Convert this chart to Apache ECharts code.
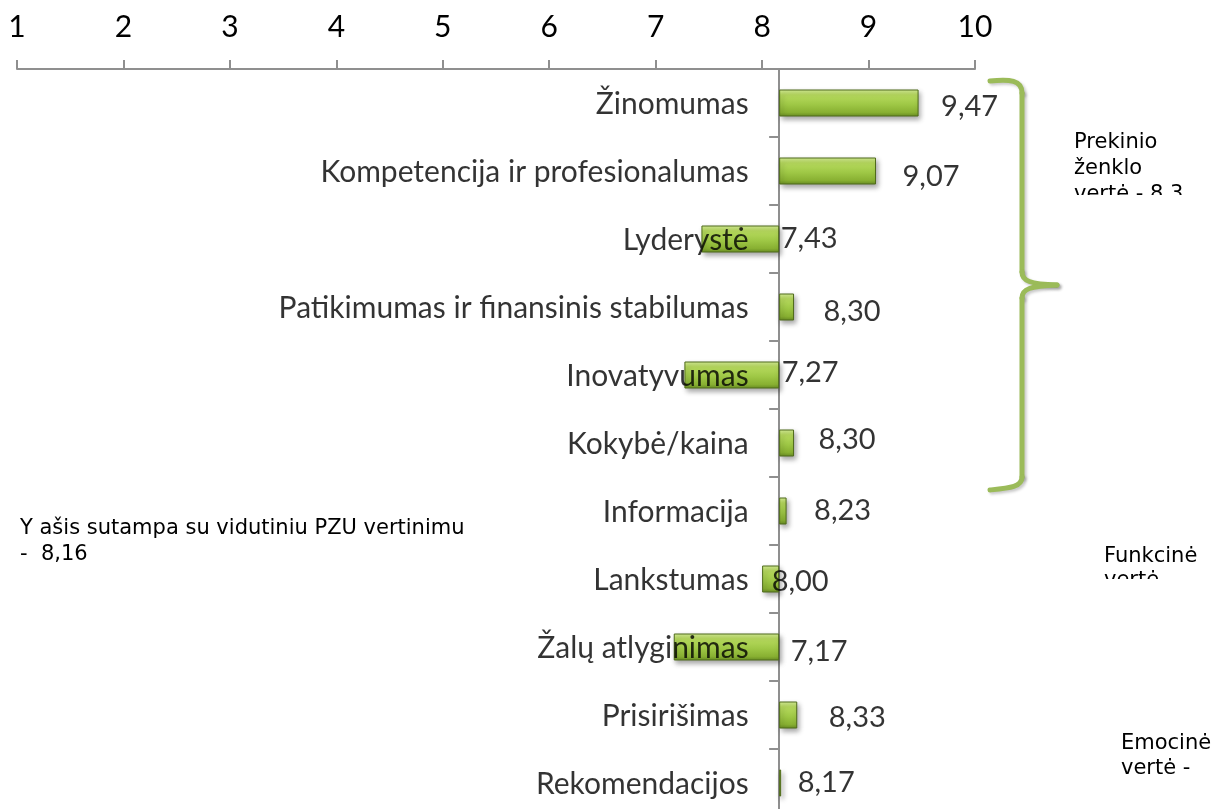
<!DOCTYPE html>
<html>
<head>
<meta charset="utf-8">
<script src="https://cdn.jsdelivr.net/npm/echarts@6/dist/echarts.min.js"></script>
<style>
  html, body { margin: 0; padding: 0; background: #ffffff; }
  #chart { width: 1214px; height: 809px; }
</style>
</head>
<body>
<div id="chart"></div>
<script>
// Brand attribute scores, read top to bottom
const categories = [
  'Žinomumas',
  'Kompetencija ir profesionalumas',
  'Lyderystė',
  'Patikimumas ir finansinis stabilumas',
  'Inovatyvumas',
  'Kokybė/kaina',
  'Informacija',
  'Lankstumas',
  'Žalų atlyginimas',
  'Prisirišimas',
  'Rekomendacijos'
];
const scores = [9.47, 9.07, 7.43, 8.30, 7.27, 8.30, 8.23, 8.00, 7.17, 8.33, 8.17];

// The vertical axis crosses the scale at the average PZU rating
const pzuAverage = 8.16;

// Score scale
const scaleMin = 1;
const scaleMax = 10;
const scaleStep = 1;

// Hand-placed nudges [dx, dy] for the value labels
const labelNudges = [
  [22, 4], [26, 6], [1, 0], [29, 5], [2, -2], [24, -3],
  [27, 0], [-8, 3], [11, 5], [31, 3], [17, 0]
];

const fmt = v => v.toFixed(2).replace('.', ',');

// Bars are drawn on a hidden companion axis whose zero sits at the average,
// so each bar grows from the average to the score.
const deltas = scores.map(v => +(v - pzuAverage).toFixed(4));

const barFill = {
  type: 'linear', x: 0, y: 0, x2: 0, y2: 1,
  colorStops: [
    { offset: 0, color: '#d6ee98' },
    { offset: 0.2, color: '#b7da5e' },
    { offset: 0.55, color: '#9fc846' },
    { offset: 0.85, color: '#88b032' },
    { offset: 1, color: '#6a8d24' }
  ]
};

const catFont = 'Lato';
const catSize = 30;
const valueSize = 29;
const noteFont = '21px "DejaVu Sans"';

const braceStyle = {
  fill: null,
  stroke: '#9bbb59',
  lineWidth: 5,
  lineCap: 'round',
  shadowColor: 'rgba(0,0,0,0.22)',
  shadowBlur: 3,
  shadowOffsetX: 2,
  shadowOffsetY: 2
};
const braceLine = (x1, y1, x2, y2) => ({
  type: 'line', z: 10, shape: { x1, y1, x2, y2 }, style: braceStyle
});
const braceCurve = (x1, y1, cpx1, cpy1, cpx2, cpy2, x2, y2) => ({
  type: 'bezierCurve', z: 10,
  shape: { x1, y1, cpx1, cpy1, cpx2, cpy2, x2, y2 },
  style: braceStyle
});

const noteText = (x, y, text, lineHeight) => ({
  type: 'text', z: 10, x, y,
  style: {
    text,
    font: noteFont,
    fill: '#000000',
    lineHeight,
    verticalAlign: 'top'
  }
});

const chart = echarts.init(document.getElementById('chart'), null, { renderer: 'canvas' });

chart.setOption({
  backgroundColor: '#ffffff',
  animation: false,
  grid: {
    left: 17,
    top: 69,
    width: 958,
    height: 748,
    containLabel: false,
    outerBoundsMode: 'none'
  },
  xAxis: [
    {
      type: 'value',
      position: 'top',
      min: scaleMin,
      max: scaleMax,
      interval: scaleStep,
      axisLine: { show: true, lineStyle: { color: '#8f8f8f', width: 2 } },
      axisTick: { show: true, length: 9, lineStyle: { color: '#8f8f8f', width: 2 } },
      axisLabel: { color: '#000000', fontFamily: catFont, fontSize: 30, margin: 27 },
      splitLine: { show: false }
    },
    {
      type: 'value',
      position: 'top',
      min: scaleMin - pzuAverage,
      max: scaleMax - pzuAverage,
      show: false,
      splitLine: { show: false }
    }
  ],
  yAxis: {
    type: 'category',
    data: categories,
    inverse: true,
    axisLine: {
      show: true,
      onZero: true,
      onZeroAxisIndex: 1,
      lineStyle: { color: '#8f8f8f', width: 2 }
    },
    axisTick: { show: true, length: 10, lineStyle: { color: '#8f8f8f', width: 2 } },
    axisLabel: { show: false },
    splitLine: { show: false }
  },
  series: [
    {
      type: 'bar',
      xAxisIndex: 1,
      data: deltas,
      barWidth: 27,
      barMinHeight: 2,
      itemStyle: {
        color: barFill,
        borderColor: '#4f6b1a',
        borderWidth: 1,
        shadowColor: 'rgba(0,0,0,0.35)',
        shadowBlur: 5,
        shadowOffsetX: 2,
        shadowOffsetY: 3
      },
      z: 2
    },
    {
      // category names, anchored at the crossing axis
      type: 'scatter',
      xAxisIndex: 1,
      symbolSize: 1,
      itemStyle: { color: 'rgba(0,0,0,0)' },
      z: 5,
      silent: true,
      data: categories.map((c, i) => ({
        value: [0, i],
        label: {
          show: true,
          position: 'left',
          distance: 30,
          offset: [0, 1],
          formatter: () => c,
          color: '#000000',
          fontFamily: catFont,
          fontSize: catSize
        }
      }))
    },
    {
      // score values
      type: 'scatter',
      xAxisIndex: 1,
      symbolSize: 1,
      itemStyle: { color: 'rgba(0,0,0,0)' },
      z: 6,
      silent: true,
      data: deltas.map((d, i) => ({
        value: [Math.max(d, 0), i],
        label: {
          show: true,
          position: 'right',
          distance: 0,
          offset: labelNudges[i],
          formatter: () => fmt(scores[i]),
          color: '#000000',
          fontFamily: catFont,
          fontSize: valueSize
        }
      }))
    }
  ],
  graphic: [
    braceCurve(990, 81, 1010, 79, 1022, 80, 1022, 93),
    braceLine(1022, 93, 1022, 272),
    braceCurve(1022, 272, 1022, 281, 1030, 284, 1057, 285),
    braceCurve(1057, 285, 1030, 286, 1022, 289, 1022, 298),
    braceLine(1022, 298, 1022, 477),
    braceCurve(1022, 477, 1022, 487, 1010, 488, 990, 490),
    noteText(1074, 130, 'Prekinio\nženklo\nvertė - 8,3', 26),
    {
      type: 'rect', z: 11,
      shape: { x: 1060, y: 195, width: 154, height: 30 },
      style: { fill: '#ffffff' }
    },
    noteText(1104, 545, 'Funkcinė\nvertė -', 24),
    {
      type: 'rect', z: 11,
      shape: { x: 1090, y: 579, width: 124, height: 30 },
      style: { fill: '#ffffff' }
    },
    noteText(1121, 731, 'Emocinė\nvertė -', 25),
    noteText(20, 516, 'Y ašis sutampa su vidutiniu PZU vertinimu\n-  8,16', 26)
  ]
});
</script>
</body>
</html>
